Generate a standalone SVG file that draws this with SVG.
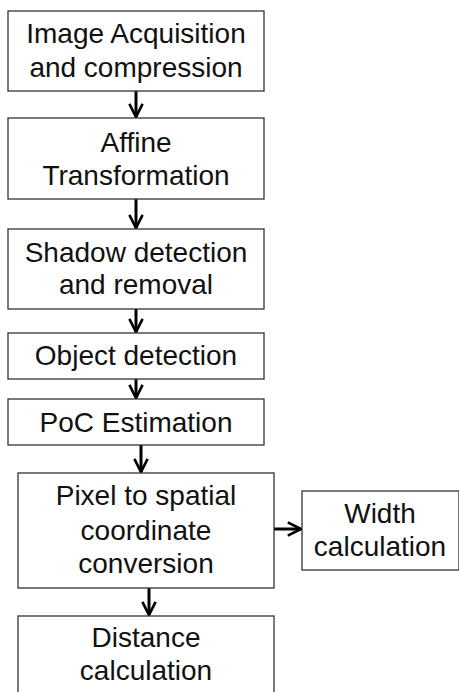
<svg xmlns="http://www.w3.org/2000/svg" width="459" height="692" viewBox="0 0 459 692">
  <defs>
    <marker id="chev" viewBox="0 0 10 10" refX="9" refY="5" markerWidth="5.5" markerHeight="5.5" orient="auto" markerUnits="strokeWidth">
      <path d="M1,1 L9,5 L1,9" fill="none" stroke="#000" stroke-width="1.6" stroke-linejoin="miter"/>
    </marker>
  </defs>
  <style>
    .box { fill: #fff; stroke: #333; stroke-width: 1.3; }
    .lbl { font-family: "Liberation Sans", Arial, sans-serif; font-size: 28px; fill: #111; text-anchor: middle; }
    .conn { stroke: #000; stroke-width: 3; fill: none; marker-end: url(#chev); }
  </style>
  <rect width="459" height="692" fill="#fff"/>

  <g id="connectors">
    <line class="conn" x1="136" y1="91" x2="136" y2="117"/>
    <line class="conn" x1="136" y1="199" x2="136" y2="228"/>
    <line class="conn" x1="136" y1="309" x2="136" y2="332"/>
    <line class="conn" x1="136" y1="379" x2="136" y2="398"/>
    <line class="conn" x1="141" y1="445" x2="141" y2="472"/>
    <line class="conn" x1="274" y1="529" x2="301" y2="529"/>
    <line class="conn" x1="149" y1="588" x2="149" y2="615"/>
  </g>

  <g id="image-acquisition">
    <rect class="box" x="8" y="11" width="256" height="80"/>
    <text class="lbl" x="136" y="43">Image Acquisition</text>
    <text class="lbl" x="136" y="77">and compression</text>
  </g>
  <g id="affine-transformation">
    <rect class="box" x="8" y="118" width="256" height="81"/>
    <text class="lbl" x="136" y="152">Affine</text>
    <text class="lbl" x="136" y="185">Transformation</text>
  </g>
  <g id="shadow-detection">
    <rect class="box" x="8" y="229" width="256" height="80"/>
    <text class="lbl" x="136" y="262">Shadow detection</text>
    <text class="lbl" x="136" y="294">and removal</text>
  </g>
  <g id="object-detection">
    <rect class="box" x="8" y="333" width="256" height="46"/>
    <text class="lbl" x="136" y="365">Object detection</text>
  </g>
  <g id="poc-estimation">
    <rect class="box" x="8" y="399" width="256" height="46"/>
    <text class="lbl" x="136" y="432">PoC Estimation</text>
  </g>
  <g id="pixel-to-spatial">
    <rect class="box" x="18" y="473" width="256" height="115"/>
    <text class="lbl" x="146" y="505">Pixel to spatial</text>
    <text class="lbl" x="146" y="540">coordinate</text>
    <text class="lbl" x="146" y="573">conversion</text>
  </g>
  <g id="width-calculation">
    <rect class="box" x="302" y="491" width="157" height="79"/>
    <text class="lbl" x="380" y="523">Width</text>
    <text class="lbl" x="380" y="556">calculation</text>
  </g>
  <g id="distance-calculation">
    <rect class="box" x="18" y="616" width="256" height="90"/>
    <text class="lbl" x="146" y="647">Distance</text>
    <text class="lbl" x="146" y="680">calculation</text>
  </g>
</svg>
